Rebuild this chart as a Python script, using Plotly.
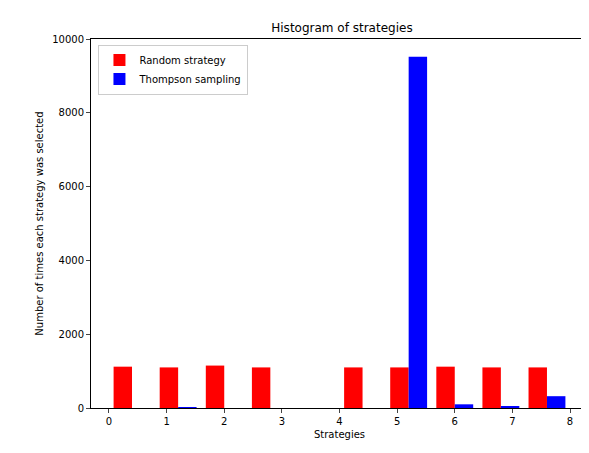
import plotly.graph_objects as go

bin_edges_start = [0.0, 0.8, 1.6, 2.4, 3.2, 4.0, 4.8, 5.6, 6.4, 7.2]
random_counts = [1120, 1100, 1150, 1100, 0, 1100, 1100, 1120, 1100, 1100]
thompson_counts = [0, 15, 0, 0, 0, 0, 9520, 100, 50, 320]
bw = 0.8
w = bw * 0.8 / 2

xr = [e + bw * 0.1 + w / 2 for e in bin_edges_start]
xt = [e + bw * 0.1 + w * 1.5 for e in bin_edges_start]

fig = go.Figure()
fig.add_bar(x=xr, y=random_counts, width=w, marker_color="red", marker_line_width=0, name="Random strategy")
fig.add_bar(x=xt, y=thompson_counts, width=w, marker_color="blue", marker_line_width=0, name="Thompson sampling")
ax = dict(showline=True, linecolor="black", mirror=True, ticks="outside", ticklen=4, showgrid=False,
          zeroline=False, automargin=False, tickfont=dict(size=10))
fig.update_layout(
    width=589, height=453, barmode="overlay", plot_bgcolor="white", paper_bgcolor="white",
    margin=dict(l=83, r=9, t=31, b=53),
    font=dict(family="DejaVu Sans", size=10, color="black"),
    title=dict(text="Histogram of strategies", x=0.567, xanchor="center", y=0.965, font=dict(size=12), automargin=False),
    xaxis=dict(ax, range=[-0.312, 8.312], tickvals=list(range(9)), title=dict(text="Strategies", standoff=4, font=dict(size=10))),
    yaxis=dict(ax, range=[0, 10000], dtick=2000, tickformat="d",
               title=dict(text="Number of times each strategy was selected", standoff=6, font=dict(size=10))),
    legend=dict(x=0.015, y=0.985, xanchor="left", yanchor="top", bordercolor="#ccc", borderwidth=1,
                bgcolor="white", font=dict(size=10), itemwidth=30),
)
fig.write_html("out.html")
